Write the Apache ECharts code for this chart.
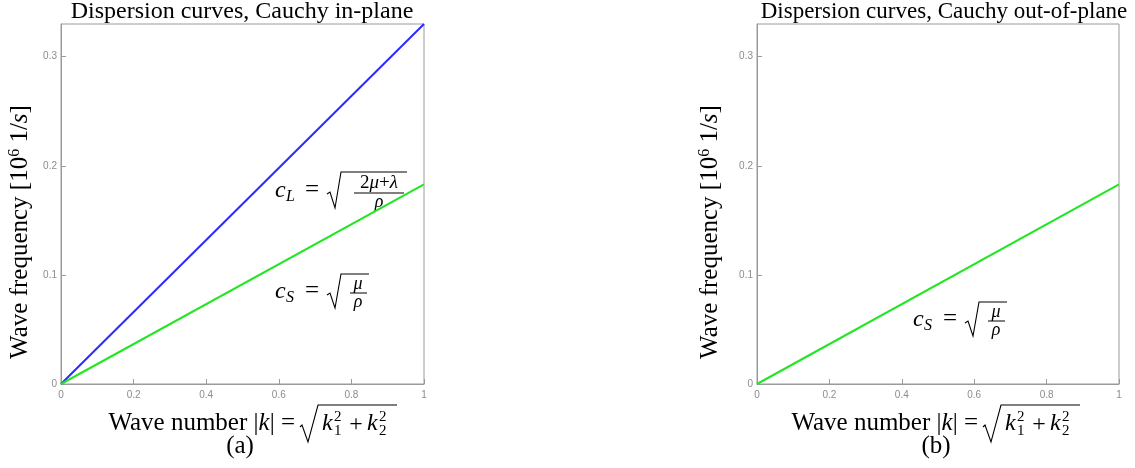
<!DOCTYPE html>
<html>
<head>
<meta charset="utf-8">
<script src="https://cdn.jsdelivr.net/npm/echarts@6/dist/echarts.min.js"></script>
<style>html,body{margin:0;padding:0;background:#fff}#c{width:1135px;height:468px}</style>
</head>
<body>
<div id="c"></div>
<script>
// ---- data ----
const waveNumber = [0, 1];
const inPlaneLongitudinal = [0, 0.330];   // c_L branch (blue)
const inPlaneShear = [0, 0.183];          // c_S branch (green)
const outOfPlaneShear = [0, 0.183];       // c_S branch (green)
const xTicks = [0, 0.2, 0.4, 0.6, 0.8, 1];
const yTicks = [0, 0.1, 0.2, 0.3];
const titles = ['Dispersion curves, Cauchy in-plane', 'Dispersion curves, Cauchy out-of-plane'];
const panelTags = ['(a)', '(b)'];

const SERIF = '"Liberation Serif", "DejaVu Serif", serif';
const pairs = ys => waveNumber.map((x, i) => [x, ys[i]]);
const blue = '#2b2bff', green = '#22e622', frame = '#9a9a9a', tickCol = '#8c8c8c';

function font(size, italic) { return (italic ? 'italic ' : '') + size + 'px ' + SERIF; }
function T(x, y, text, size, opt) {
  opt = opt || {};
  return { type: 'text', x: x, y: y, rotation: opt.rot || 0, silent: true,
    style: { text: text, font: font(size, opt.italic), fill: '#000',
      align: opt.align || 'left', verticalAlign: opt.va || 'middle', rich: opt.rich } };
}
function PL(points, w) { return { type: 'polyline', silent: true, shape: { points: points }, style: { stroke: '#000', lineWidth: w || 1.1, fill: null } }; }
function L(x1, y1, x2, y2) { return { type: 'line', silent: true, shape: { x1: x1, y1: y1, x2: x2, y2: y2 }, style: { stroke: '#000', lineWidth: 1 } }; }
function rel(x0, y0, pts) { return pts.map(p => [x0 + p[0], y0 + p[1]]); }

function cS(x0, y0) {
  return [
    T(x0, y0, 'c', 24, { italic: true }),
    T(x0 + 11, y0 + 6, 'S', 16, { italic: true }),
    T(x0 + 37, y0 - 1, '=', 25, { align: 'center' }),
    PL(rel(x0, y0, [[52, 3], [55, 1], [60, 16], [66, -18], [94, -18]])),
    T(x0 + 83, y0 - 8, 'μ', 18, { italic: true, align: 'center' }),
    L(x0 + 75, y0 + 1, x0 + 92, y0 + 1),
    T(x0 + 83, y0 + 10, 'ρ', 18, { italic: true, align: 'center' })
  ];
}
function cL(x0, y0) {
  return [
    T(x0, y0, 'c', 24, { italic: true }),
    T(x0 + 11, y0 + 6, 'L', 16, { italic: true }),
    T(x0 + 37, y0 - 1, '=', 25, { align: 'center' }),
    PL(rel(x0, y0, [[52, 3], [55, 1], [60, 17], [66, -19], [132, -19]])),
    T(x0 + 104, y0 - 8, '{r|2}{i|μ}{r|+}{i|λ}', 19, { align: 'center',
      rich: { r: { font: font(19), fill: '#000' }, i: { font: font(19, true), fill: '#000' } } }),
    L(x0 + 79, y0 + 2, x0 + 129, y0 + 2),
    T(x0 + 104, y0 + 11, 'ρ', 18, { italic: true, align: 'center' })
  ];
}
function xLabel(xr, yc) {
  return [
    T(xr - 5, yc, '{r|Wave number |}{i|k}{r|| =}', 25, { align: 'right',
      rich: { r: { font: font(25), fill: '#000' }, i: { font: font(25, true), fill: '#000' } } }),
    PL(rel(xr, yc, [[0, 4], [2, 2], [8, 19], [18, -18], [97, -18]])),
    T(xr + 22, yc + 1, 'k', 24, { italic: true }),
    T(xr + 34, yc - 6, '2', 15),
    T(xr + 34, yc + 8, '1', 15),
    T(xr + 56, yc + 2, '+', 24, { align: 'center' }),
    T(xr + 67, yc + 1, 'k', 24, { italic: true }),
    T(xr + 79, yc - 6, '2', 15),
    T(xr + 79, yc + 8, '2', 15)
  ];
}
function yLabel(xc, yc) {
  return T(xc, yc, '{r|Wave frequency [10}{s|6}{r| 1/}{i|s}{r|]}', 25, { align: 'center', rot: Math.PI / 2,
    rich: { r: { font: font(25), fill: '#000', lineHeight: 27 },
            i: { font: font(25, true), fill: '#000', lineHeight: 27 },
            s: { font: font(16), fill: '#000', verticalAlign: 'top', lineHeight: 27, padding: [0, 0, 8, 0] } } });
}

const grids = [
  { left: 61, right: 711, top: 24, bottom: 84 },
  { left: 757, right: 16, top: 24, bottom: 84 }
];
function xAx(i) {
  return { type: 'value', gridIndex: i, min: 0, max: 1, interval: 0.2,
    axisLine: { lineStyle: { color: frame } },
    axisTick: { inside: true, length: 5, lineStyle: { color: frame } },
    splitLine: { show: false },
    axisLabel: { color: tickCol, fontSize: 10, fontFamily: '"Liberation Sans", Arial, sans-serif', margin: 6,
      formatter: v => xTicks.some(t => Math.abs(t - v) < 1e-9) ? String(+v.toFixed(1)) : '' } };
}
function yAx(i) {
  return { type: 'value', gridIndex: i, min: 0, max: 0.33, interval: 0.1,
    axisLine: { show: true, lineStyle: { color: frame } },
    axisTick: { inside: true, length: 5, lineStyle: { color: frame } },
    splitLine: { show: false },
    axisLabel: { color: tickCol, fontSize: 10, fontFamily: '"Liberation Sans", Arial, sans-serif', margin: 4, showMaxLabel: false,
      formatter: v => yTicks.some(t => Math.abs(t - v) < 1e-9) ? String(+v.toFixed(1)) : '' } };
}
function lineSeries(i, ys, color) {
  return { type: 'line', xAxisIndex: i, yAxisIndex: i, data: pairs(ys), showSymbol: false,
    lineStyle: { color: color, width: 2 }, silent: true, z: 3 };
}

const chart = echarts.init(document.getElementById('c'), null, { renderer: 'canvas' });
chart.setOption({
  animation: false,
  backgroundColor: '#fff',
  grid: grids.map(g => Object.assign({ show: true, borderColor: frame, borderWidth: 1, backgroundColor: 'transparent' }, g)),
  xAxis: [xAx(0), xAx(1)],
  yAxis: [yAx(0), yAx(1)],
  series: [
    lineSeries(0, inPlaneLongitudinal, blue),
    lineSeries(0, inPlaneShear, green),
    lineSeries(1, outOfPlaneShear, green)
  ],
  graphic: [].concat(
    [T(242, 12, titles[0], 24, { align: 'center' }), T(944, 12, titles[1], 23, { align: 'center' })],
    cL(275, 191), cS(275, 292), cS(913, 320),
    xLabel(300, 423), xLabel(983, 423),
    [T(240, 446, panelTags[0], 25, { align: 'center' }), T(936, 446, panelTags[1], 25, { align: 'center' })],
    [yLabel(20, 232), yLabel(710, 232)]
  )
});
</script>
</body>
</html>
